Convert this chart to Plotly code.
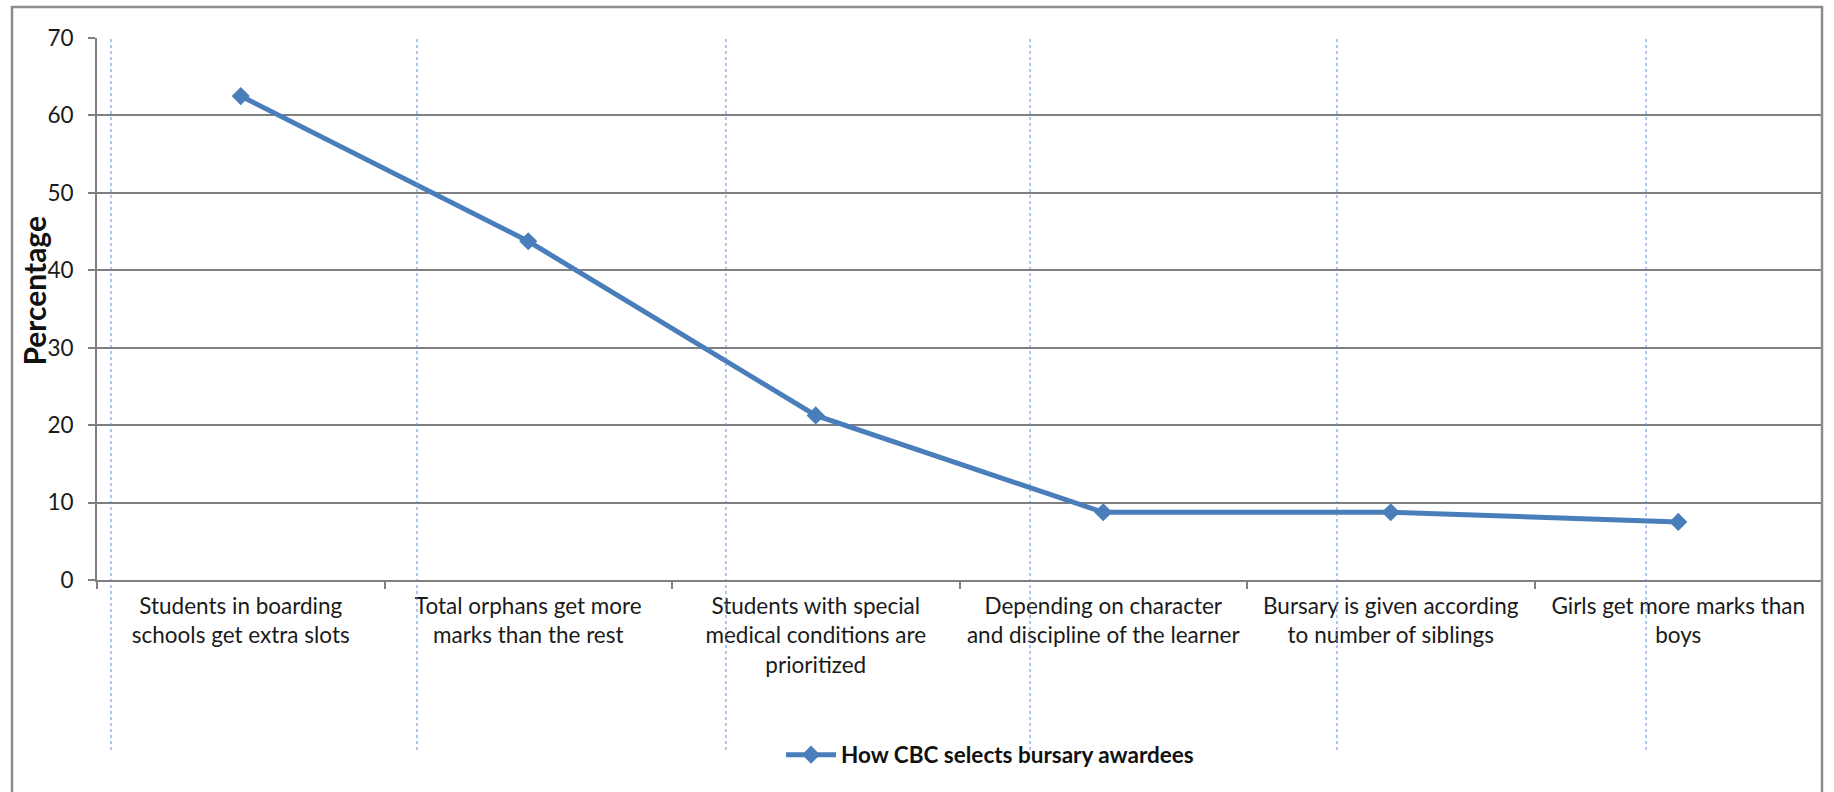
import plotly.graph_objects as go

categories = [
    "Students in boarding<br>schools get extra slots",
    "Total orphans get more<br>marks than the rest",
    "Students with special<br>medical conditions are<br>prioritized",
    "Depending on character<br>and discipline of the learner",
    "Bursary is given according<br>to number of siblings",
    "Girls get more marks than<br>boys",
]
percentages = [62.5, 43.75, 21.25, 8.75, 8.75, 7.5]
series_name = "How CBC selects bursary awardees"
y_ticks = [0, 10, 20, 30, 40, 50, 60, 70]
y_title = "Percentage"

FONT = "Lato"
GRID = "#808080"
BLUE = "#4a7ebb"

fig = go.Figure()
fig.add_trace(go.Scatter(
    x=categories, y=percentages, mode="lines+markers", name=series_name,
    line=dict(color=BLUE, width=5),
    marker=dict(symbol="diamond", size=14, color=BLUE),
))

shapes = []
# decorative dotted vertical lines
for xp in [0.0081, 0.1855, 0.3646, 0.5409, 0.7188, 0.898]:
    shapes.append(dict(type="line", xref="paper", yref="paper",
                       x0=xp, x1=xp, y0=-0.3137, y1=1.0,
                       line=dict(color="#5b8fd8", width=1, dash="dot"), layer="above"))
# outer chart border
shapes.append(dict(type="rect", xref="paper", yref="paper",
                   x0=(12 - 97) / 1725, x1=1.0, y0=-0.42, y1=(580 - 7) / 542,
                   line=dict(color="#8c8c8c", width=2.5), fillcolor="rgba(0,0,0,0)"))

fig.update_layout(
    width=1834, height=792,
    margin=dict(l=97, r=12, t=38, b=212),
    paper_bgcolor="white", plot_bgcolor="white",
    font=dict(family=FONT, size=22, color="#1a1a1a"),
    showlegend=True,
    legend=dict(orientation="h", x=0.5177, y=-0.323, xanchor="center", yanchor="middle",
                font=dict(family=FONT, size=22.5, color="#111111", weight="bold"),
                itemwidth=50, bgcolor="rgba(0,0,0,0)"),
    shapes=shapes,
    annotations=[dict(text=y_title, xref="paper", yref="paper",
                      x=(34 - 97) / 1725, y=0.534, xanchor="center", yanchor="middle",
                      textangle=-90, showarrow=False,
                      font=dict(family=FONT, size=30, color="#111111", weight="bold"))],
)
fig.update_xaxes(
    type="category", range=[-0.5, 5.5], tickson="boundaries",
    ticks="outside", ticklen=7, tickwidth=2, tickcolor=GRID,
    showline=True, linecolor=GRID, linewidth=2, showgrid=False,
    ticklabelstandoff=5,
    tickfont=dict(family=FONT, size=22.5, color="#1a1a1a"),
)
fig.update_yaxes(
    range=[0, 70], tickvals=y_ticks,
    ticks="outside", ticklen=7, tickwidth=2, tickcolor=GRID,
    showline=True, linecolor=GRID, linewidth=2,
    showgrid=True, gridcolor=GRID, gridwidth=2, zeroline=False,
    ticklabelstandoff=10,
    tickfont=dict(family=FONT, size=22.5, color="#1a1a1a"),
)

fig.write_html("out.html")
